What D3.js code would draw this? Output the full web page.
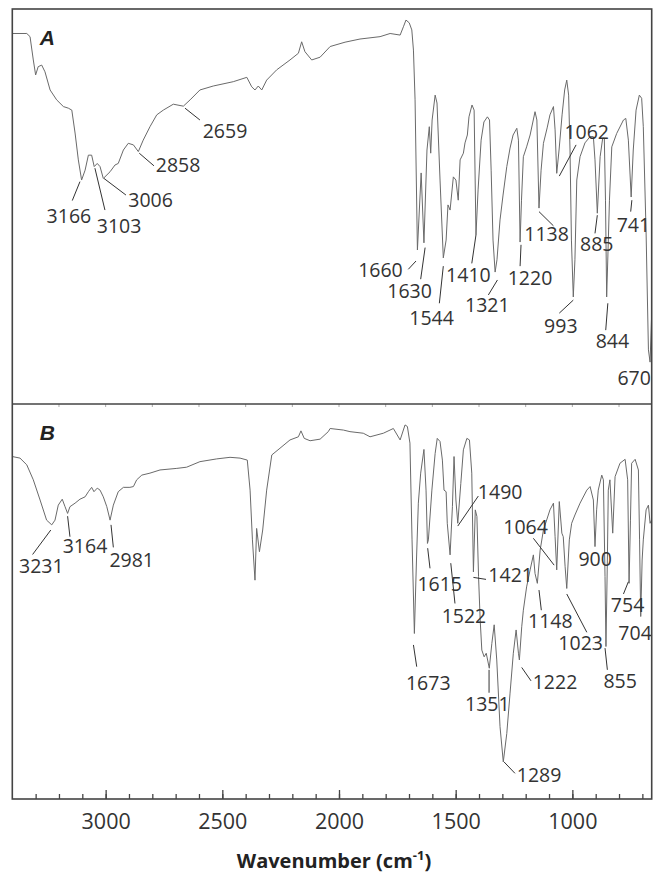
<!DOCTYPE html>
<html>
<head>
<meta charset="utf-8">
<script src="https://cdn.jsdelivr.net/npm/d3@7"></script>
<style>
  body { margin: 0; background: #fff; }
  svg { display: block; }
  text { font-family: "Open Sans", sans-serif; }
</style>
</head>
<body>
<div id="chart"></div>
<script>
// ---- data (wavenumber cm-1, transmittance %) ----
const wnA = [3400,3338,3324,3310,3300,3289,3274,3260,3238,3210,3181,3160,3145,3131,3117,3103,3088,3074,3060,3049,
  3036,3024,3010,2981,2960,2946,2924,2903,2881,2860,2839,2810,2781,2753,2710,2667,2638,2596,2539,2453,
  2395,2374,2360,2346,2331,2310,2267,2210,2174,2160,2146,2117,2081,2038,1974,1910,1824,1781,1738,1724,
  1713,1699,1688,1681,1674,1664,1648,1636,1623,1613,1607,1601,1588,1580,1567,1553,1541,1533,1524,1510,
  1499,1489,1481,1467,1460,1450,1443,1430,1421,1413,1404,1391,1379,1364,1355,1348,1340,1331,1323,1310,
  1297,1281,1267,1254,1238,1231,1224,1218,1210,1196,1181,1160,1152,1143,1134,1124,1108,1096,1081,1074,
  1067,1057,1044,1033,1024,1016,1010,1004,996,989,981,967,946,924,910,903,893,881,870,863,
  858,853,847,841,831,810,781,771,760,748,739,727,713,703,696,684,674,667,661];
const tA = [93.8,93.8,93.0,87.1,83.3,85.4,85.8,84.1,79.5,77.0,75.3,74.9,74.4,68.6,61.8,56.7,59.2,63.0,63.0,60.1,
  60.9,60.1,57.1,58.8,60.5,60.9,64.3,66.0,65.6,63.9,66.8,70.2,73.2,74.4,75.9,75.4,77.0,79.5,80.5,81.6,
  82.7,80.3,79.5,80.5,79.5,82.0,84.6,87.1,88.8,91.7,89.2,87.1,87.8,90.5,91.6,92.4,93.0,93.8,93.4,95.5,
  97.2,96.5,94.7,89.6,77.0,39.0,58.5,40.8,64.3,70.2,63.5,71.9,78.2,76.2,56.7,37.0,41.5,50.4,49.1,57.5,
  56.7,51.6,61.8,63.5,66.1,68.1,72.7,75.7,74.4,42.8,54.2,66.8,71.4,72.7,71.9,59.2,41.5,33.4,36.5,46.6,
  52.9,60.1,64.8,68.1,69.8,66.8,41.0,51.6,62.6,65.1,68.1,74.0,71.9,49.6,59.2,66.0,69.9,73.2,75.3,69.4,
  58.4,64.3,73.2,79.5,82.0,78.2,64.3,41.5,27.1,36.5,56.7,62.6,66.1,67.7,67.7,61.8,48.3,62.6,67.3,67.3,
  51.6,27.1,39.0,51.6,65.1,68.5,71.9,72.3,66.8,52.4,64.3,74.4,78.2,77.4,70.2,43.3,13.7,10.6,21.3];

const wnB = [3400,3367,3338,3310,3281,3253,3231,3217,3203,3186,3174,3163,3153,3131,3110,3088,3074,3060,3050,3036,
  3024,3010,2995,2981,2967,2946,2924,2896,2881,2867,2845,2810,2767,2695,2653,2596,2524,2467,2424,2393,
  2381,2371,2360,2353,2341,2327,2310,2288,2253,2210,2174,2163,2149,2124,2081,2046,2038,1981,1953,1896,
  1867,1810,1767,1738,1717,1707,1696,1687,1677,1668,1660,1650,1636,1627,1621,1617,1602,1588,1579,1567,
  1557,1550,1541,1536,1524,1514,1507,1499,1491,1478,1467,1452,1441,1431,1424,1416,1409,1402,1395,1388,
  1378,1369,1356,1345,1335,1324,1310,1296,1281,1267,1253,1241,1231,1227,1217,1210,1196,1181,1167,1160,
  1150,1138,1124,1096,1081,1074,1067,1056,1045,1039,1031,1024,1013,1003,989,967,938,924,910,903,
  896,889,874,867,860,856,850,846,839,827,817,796,774,763,757,751,746,731,717,712,
  707,701,696,684,674,667,661];
const tB = [86.7,86.3,84.6,80.8,75.7,70.6,69.4,70.6,74.4,75.9,74.0,72.3,74.0,74.9,75.9,76.5,77.8,78.9,77.8,78.7,
  78.2,76.5,74.0,70.6,74.4,77.8,78.9,78.9,79.1,80.8,82.0,82.5,83.3,83.7,84.0,85.4,86.1,86.5,86.3,85.8,
  78.2,65.6,55.4,68.5,62.6,68.1,78.2,87.1,88.8,90.9,91.7,93.2,91.3,90.7,91.1,93.0,93.8,93.4,93.0,92.6,
  91.7,92.6,93.8,90.9,94.7,94.3,90.1,65.6,41.9,60.5,74.9,82.5,88.5,78.2,64.7,65.6,78.2,87.5,91.3,90.5,
  85.8,78.2,77.8,69.8,61.8,74.0,86.7,75.7,69.8,79.9,88.4,91.3,90.9,82.5,57.5,73.2,71.5,56.3,45.3,37.7,
  36.0,36.9,33.1,39.4,44.1,35.2,18.3,9.4,16.6,26.8,36.9,42.8,36.9,35.2,43.6,47.8,53.7,58.0,61.8,57.1,
  54.6,63.0,68.1,73.2,74.9,66.4,58.0,75.3,67.3,66.4,58.8,53.3,65.6,69.8,71.9,74.9,78.2,79.1,75.7,63.9,
  73.2,78.2,82.0,80.8,56.3,38.6,60.5,78.2,80.8,67.3,81.6,85.0,86.0,80.8,54.6,70.6,85.0,86.0,83.3,65.6,
  46.2,60.5,65.6,73.2,74.4,69.8,70.6];

// peak labels: [text, text wn, text baseline T, leader from wn, from T, leader to wn, to T]
const peaksA = [
  ["3166", 3253, 45.7, 3110, 56.3, 3143, 51.5],
  ["3103", 3038, 43.4, 3046, 59.7, 3003, 49.1],
  ["3006", 2903, 49.9, 3007, 57.1, 2913, 52.9],
  ["2858", 2785, 58.8, 2856, 63.5, 2793, 60.3],
  ["2659", 2584, 67.3, 2660, 74.9, 2596, 71.9],
  ["1660", 1918, 32.2, 1703, 34.1, 1670, 36.2],
  ["1630", 1793, 26.8, 1650, 31.6, 1631, 39.6],
  ["1544", 1699, 20.0, 1570, 25.5, 1553, 34.9],
  ["1410", 1541, 31.0, 1431, 35.6, 1413, 42.8],
  ["1321", 1460, 23.4, 1360, 27.6, 1321, 31.4],
  ["1220", 1277, 30.1, 1224, 34.9, 1220, 40.3],
  ["1138", 1206, 41.3, 1143, 48.7, 1081, 45.1],
  ["1062", 1034, 67.0, 1056, 57.7, 984, 65.6],
  ["993", 1121, 18.1, 1056, 23.0, 996, 26.3],
  ["885", 967, 38.7, 903, 43.2, 893, 47.8],
  ["844", 900, 14.1, 857, 18.7, 848, 25.5],
  ["741", 810, 43.6, 750, 48.7, 745, 51.6],
  ["670", 807, 4.8]
];
const peaksB = [
  ["3231", 3371, 57.1, 3235, 68.1, 3313, 61.9],
  ["3164", 3184, 62.2, 3163, 71.6, 3153, 66.4],
  ["2981", 2984, 58.8, 2977, 69.4, 2967, 63.7],
  ["1673", 1713, 27.6, 1681, 39.0, 1667, 33.5],
  ["1615", 1664, 52.7, 1620, 63.5, 1610, 58.4],
  ["1522", 1560, 44.6, 1521, 59.7, 1503, 49.5],
  ["1490", 1405, 75.9, 1491, 69.1, 1403, 76.7],
  ["1421", 1360, 54.9, 1424, 56.1, 1370, 55.6],
  ["1351", 1460, 22.3, 1357, 32.7, 1357, 26.9],
  ["1289", 1238, 4.4, 1293, 9.4, 1246, 6.5],
  ["1222", 1170, 27.8, 1217, 33.3, 1177, 29.9],
  ["1148", 1190, 43.2, 1143, 52.9, 1133, 47.8],
  ["1064", 1296, 67.1, 1167, 66.0, 1078, 59.2],
  ["1023", 1060, 37.8, 1024, 51.9, 938, 42.2],
  ["900", 974, 59.1],
  ["855", 867, 28.0, 860, 38.2, 850, 32.7],
  ["754", 835, 47.4, 760, 55.0, 781, 51.9],
  ["704", 803, 40.3]
];

const majorTicks = [3000, 2500, 2000, 1500, 1000];
const minorTicks = d3.range(3300, 650, -100);
const panels = [
  {name: "A", wn: wnA, t: tA, peaks: peaksA},
  {name: "B", wn: wnB, t: tB, peaks: peaksB}
];

// ---- layout ----
const W = 653, H = 874;
const margin = {top: 9, right: 1.3, bottom: 75, left: 12.3};
const panelH = (H - margin.top - margin.bottom) / panels.length;

const svg = d3.select("#chart").append("svg")
  .attr("width", W).attr("height", H);

const x = d3.scaleLinear()
  .domain([3400, 660])
  .range([margin.left, W - margin.right]);

const line = (y) => d3.line()
  .x(d => x(d[0]))
  .y(d => y(d[1]));

panels.forEach((p, i) => {
  const top = margin.top + i * panelH;
  const y = d3.scaleLinear().domain([0, 100]).range([top + panelH, top]);
  const g = svg.append("g");

  // spectrum
  g.append("path")
    .datum(p.wn.map((w, k) => [w, p.t[k]]))
    .attr("fill", "none")
    .attr("stroke", "#6a6a6a")
    .attr("stroke-width", 1)
    .attr("stroke-linejoin", "round")
    .attr("d", line(y));

  // leader lines
  g.selectAll("line.leader")
    .data(p.peaks.filter(d => d.length > 3))
    .enter().append("line")
      .attr("class", "leader")
      .attr("x1", d => x(d[3])).attr("y1", d => y(d[4]))
      .attr("x2", d => x(d[5])).attr("y2", d => y(d[6]))
      .attr("stroke", "#333")
      .attr("stroke-width", 1);

  // peak labels
  g.selectAll("text.peak")
    .data(p.peaks)
    .enter().append("text")
      .attr("class", "peak")
      .attr("x", d => x(d[1]))
      .attr("y", d => y(d[2]))
      .attr("fill", "#333")
      .style("font-size", "19.5px")
      .text(d => d[0]);

  // panel letter
  g.append("text")
    .attr("x", x(3282))
    .attr("y", y(91))
    .attr("fill", "#222")
    .style("font", "italic bold 21px 'Liberation Sans', Arial, sans-serif")
    .text(p.name);

  // faint minor ticks along the panel A bottom edge
  if (i === 0) {
    g.selectAll("line.sep-tick")
      .data(d3.range(3200, 660, -200))
      .enter().append("line")
        .attr("x1", d => x(d)).attr("x2", d => x(d))
        .attr("y1", top + panelH).attr("y2", top + panelH + 3)
        .attr("stroke", "#aaa");
  }
});

// frame + separator
const [x0, x1] = x.range();
svg.append("rect")
  .attr("x", x0).attr("y", margin.top)
  .attr("width", x1 - x0).attr("height", panelH * 2)
  .attr("fill", "none")
  .attr("stroke", "#444")
  .attr("stroke-width", 1.6);
svg.append("line")
  .attr("x1", x0).attr("x2", x1)
  .attr("y1", margin.top + panelH).attr("y2", margin.top + panelH)
  .attr("stroke", "#444")
  .attr("stroke-width", 1.6);

// bottom axis
const bottom = margin.top + panelH * 2;
svg.append("g")
  .attr("transform", `translate(0,${bottom})`)
  .call(d3.axisBottom(x).tickValues(minorTicks).tickSizeInner(-5).tickSizeOuter(0).tickFormat(""))
  .call(g => g.select(".domain").remove())
  .call(g => g.selectAll(".tick line").attr("stroke", "#444").attr("stroke-width", 1.3));

svg.append("g")
  .attr("transform", `translate(0,${bottom})`)
  .call(d3.axisBottom(x).tickValues(majorTicks).tickSizeInner(-9).tickSizeOuter(0)
    .tickPadding(0).tickFormat(d3.format("d")))
  .call(g => g.select(".domain").remove())
  .call(g => g.selectAll(".tick line").attr("stroke", "#444").attr("stroke-width", 1.3))
  .call(g => g.selectAll(".tick text")
    .attr("y", 30).attr("dy", 0)
    .attr("fill", "#333")
    .style("font-family", "'Open Sans', sans-serif")
    .style("font-size", "21.5px"));

// axis title
const title = svg.append("text")
  .attr("x", (x0 + x1) / 2 + 2)
  .attr("y", 868)
  .attr("text-anchor", "middle")
  .attr("fill", "#222")
  .style("font-weight", "bold")
  .style("font-size", "20px");
title.append("tspan").text("Wavenumber (cm");
title.append("tspan").attr("dy", -8).style("font-size", "13px").text("-1");
title.append("tspan").attr("dy", 8).text(")");
</script>
</body>
</html>
